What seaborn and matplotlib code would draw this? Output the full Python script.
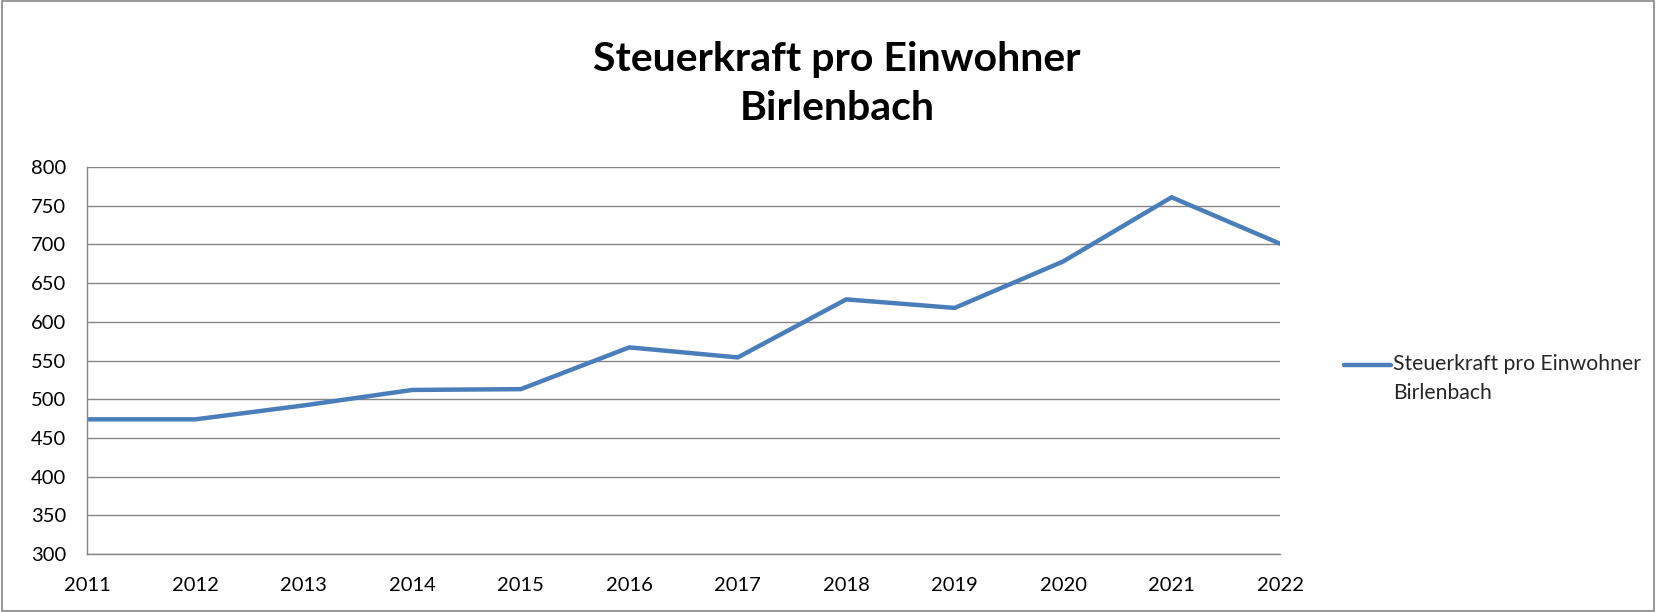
import matplotlib
matplotlib.use("Agg")
import matplotlib.pyplot as plt
import seaborn as sns
import pandas as pd
import numpy as np
from matplotlib.patches import Rectangle
from matplotlib.legend_handler import HandlerLine2D

# Daten
jahre = [2011, 2012, 2013, 2014, 2015, 2016, 2017, 2018, 2019, 2020, 2021, 2022]
steuerkraft = [474, 474, 492, 512, 513, 567, 554, 629, 618, 678, 761, 701]
serie = "Steuerkraft pro Einwohner\nBirlenbach"
titel = "Steuerkraft pro Einwohner\nBirlenbach"

df = pd.DataFrame({"Jahr": jahre, "Wert": steuerkraft, "Serie": serie})

sns.set_style("white")
plt.rcParams["font.family"] = ["Lato", "DejaVu Sans"]


# Legendenlinie auf Höhe der ersten Textzeile
class HandlerOben(HandlerLine2D):
    def create_artists(self, legend, orig_handle, xdescent, ydescent,
                       width, height, fontsize, trans):
        artists = super().create_artists(legend, orig_handle, xdescent, ydescent,
                                         width, height, fontsize, trans)
        for a in artists:
            a.set_ydata(np.asarray(a.get_ydata()) + 0.68 * fontsize)
        return artists


fig = plt.figure(figsize=(16.57, 6.12), dpi=100)
ax = fig.add_axes([0.0525, 0.0948, 0.72, 0.6322])

sns.lineplot(data=df, x="Jahr", y="Wert", hue="Serie",
             palette=["#4A7EBB"], linewidth=3.2, ax=ax, legend=False)

ax.set_xlim(2011, 2022)
ax.set_ylim(300, 800)
ax.set_xticks(jahre)
ax.set_yticks(range(300, 801, 50))
ax.tick_params(axis="both", labelsize=14.5, colors="#000000",
               length=6, width=1, direction="out", color="#868686")
ax.tick_params(axis="x", pad=10.5)
ax.tick_params(axis="y", pad=9)
ax.yaxis.grid(True, color="#868686", linewidth=1)
ax.set_axisbelow(True)
for s in ["top", "right"]:
    ax.spines[s].set_visible(False)
for s in ["left", "bottom"]:
    ax.spines[s].set_color("#868686")
    ax.spines[s].set_linewidth(1)
ax.set_xlabel("")
ax.set_ylabel("")

fig.text(0.505, 0.862, titel, ha="center", va="center", color="black",
         fontsize=29.5, fontweight="bold", linespacing=1.4)

# Legende
handle = plt.Line2D([], [], color="#4A7EBB", linewidth=3.2, solid_capstyle="round")
fig.legend([handle], [serie], loc="center left",
           bbox_to_anchor=(0.805, 0.381), frameon=False,
           fontsize=15.2, handlelength=2.2, handletextpad=0.12,
           borderpad=0, labelspacing=0,
           handler_map={plt.Line2D: HandlerOben()})
plt.setp(fig.legends[0].get_texts(), linespacing=1.55)

# Rahmen um das Diagramm
fig.patches.append(Rectangle((0.001, 0.002), 0.997, 0.996, transform=fig.transFigure,
                             fill=False, edgecolor="#868686", linewidth=1.2))

fig.savefig("out.png", dpi=100, facecolor="white")
